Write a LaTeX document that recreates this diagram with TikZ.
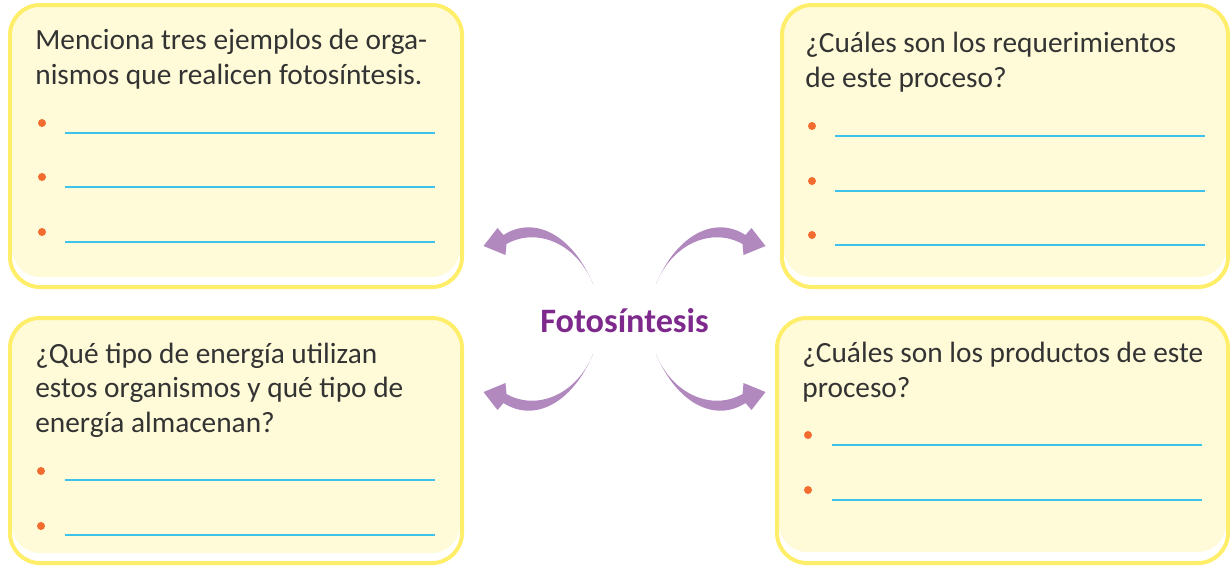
\documentclass[tikz,border=0pt]{standalone}
\usepackage{fontspec}
\setmainfont{Carlito}
\usetikzlibrary{positioning}

\definecolor{boxborder}{HTML}{FFEE6A}
\definecolor{boxfill}{HTML}{FFFBD8}
\definecolor{lineblue}{HTML}{3DC2EC}
\definecolor{dotorange}{HTML}{F26B2F}
\definecolor{arrowpurple}{HTML}{B189BF}
\definecolor{titlepurple}{HTML}{7D2A8C}
\definecolor{textgray}{HTML}{333333}

\begin{document}
\begin{tikzpicture}[
    x=0.02cm, y=-0.02cm,
    boxback/.style={fill=boxfill, rounded corners=0.56cm},
    boxframe/.style={draw=boxborder, line width=0.08cm, rounded corners=0.6cm},
    question/.style={anchor=base west, inner sep=0, align=left, text=textgray,
      font=\fontsize{16.7}{19.4}\selectfont},
    answer/.style={draw=lineblue, line width=0.04cm},
    bullet/.style={fill=dotorange},
    flowarrow/.pic={
      \fill[arrowpurple] (-31.5,-35) .. controls (-52,-84) and (-90,-104) .. (-121,-84)
        -- (-127,-91) -- (-141,-73) -- (-119,-64) -- (-118,-75)
        .. controls (-88,-92) and (-48,-76) .. (-31.5,-35) -- cycle;
    }
  ]
    \useasboundingbox (0,0) rectangle (1230,566);

    % Question boxes
    \fill[boxback] (12,7) rectangle (460,277);
    \draw[boxframe] (10,5) rectangle (462,287);
    \fill[boxback] (784,7) rectangle (1226,277);
    \draw[boxframe] (782,5) rectangle (1228,287);
    \fill[boxback] (12,320) rectangle (460,553);
    \draw[boxframe] (10,318) rectangle (462,563);
    \fill[boxback] (779,320) rectangle (1226,552);
    \draw[boxframe] (777,318) rectangle (1228,563);

    % Questions (anchored at the baseline of the last line)
    \node[question] (organismos) at (35,84) {Menciona tres ejemplos de orga-\\nismos que realicen fotosíntesis.};
    \node[question] (requerimientos) at (805,87) {¿Cuáles son los requerimientos\\de este proceso?};
    \node[question] (energia) at (35,432) {¿Qué tipo de energía utilizan\\estos organismos y qué tipo de\\energía almacenan?};
    \node[question] (productos) at (802,397) {¿Cuáles son los productos de este\\proceso?};

    % Answer lines
    \foreach \y in {133,187,242} {
      \fill[bullet] (42,\y-10) circle[radius=4];
      \draw[answer] (65,\y) -- (435,\y);
    }
    \foreach \y in {136,191,245} {
      \fill[bullet] (812,\y-10) circle[radius=4];
      \draw[answer] (835,\y) -- (1205,\y);
    }
    \foreach \y in {480,535} {
      \fill[bullet] (41,\y-9) circle[radius=4];
      \draw[answer] (65,\y) -- (435,\y);
    }
    \foreach \y in {445,500} {
      \fill[bullet] (808,\y-10) circle[radius=4];
      \draw[answer] (832,\y) -- (1202,\y);
    }

    % Centre topic and arrows
    \coordinate (hub) at (624.5,319);
    \node[text=titlepurple, font=\bfseries\fontsize{19.5}{22}\selectfont, inner sep=0] (foto) at ([yshift=-0.04cm]hub) {Fotosíntesis};
    \pic at (hub) {flowarrow};
    \pic[xscale=-1] at (hub) {flowarrow};
    \pic[yscale=-1] at (hub) {flowarrow};
    \pic[xscale=-1, yscale=-1] at (hub) {flowarrow};

  \end{tikzpicture}
\end{document}
